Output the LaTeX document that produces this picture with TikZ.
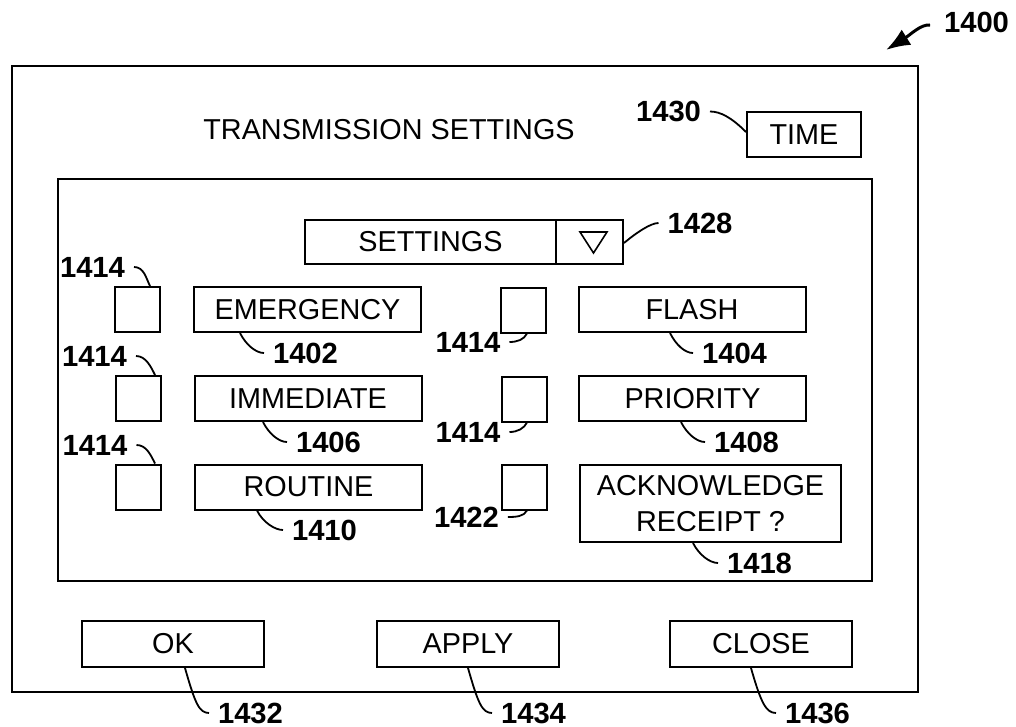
\documentclass[tikz,border=0pt]{standalone}
\usepackage{fontspec}
\setmainfont{Liberation Sans}
\usepackage{tikz}
\usetikzlibrary{arrows.meta}
\usetikzlibrary{calc}

\begin{document}
\begin{tikzpicture}
		[x=0.5pt, y=-0.5pt,
		line width=1pt,
		font=\fontsize{14.4}{18}\selectfont,
		> = {Latex[length=12pt,width=9pt]},
		check/.style = {draw, minimum size=22.5pt, inner sep=0pt},
		option/.style = {draw, minimum width=113.5pt, minimum height=22.5pt, inner sep=0pt},
		button/.style = {draw, minimum width=91pt, minimum height=23pt, inner sep=0pt},
		ref/.style = {font=\fontsize{14.6}{17}\selectfont\bfseries, inner sep=4pt},
		lead/.style = {line width=0.9pt}
		]
		\useasboundingbox (0,0) rectangle (1016,727);

		% window and panel
		\draw[line width=1.3pt] (12,66) rectangle (918,692);
		\draw (58,179) rectangle (872,581);

		\node (title) at (389,130) {TRANSMISSION SETTINGS};
		\node[draw, minimum width=57pt, minimum height=22.5pt, inner sep=0pt] (time) at (804,134.5) {TIME};

		% drop down list
		\node[draw, minimum width=125.5pt, minimum height=22pt, inner sep=0pt] (settings) at (430.5,242) {SETTINGS};
		\node[draw, minimum width=33.5pt, minimum height=22pt, inner sep=0pt] (drop) at (589.5,242) {};
		\draw[line width=0.8pt] ($(drop.center)+(-9.5,-10)$) -- ++(27,0) -- ++(-13.5,21) -- cycle;

		% priorities
		\node[check] (c1) at (137.5,309.5) {};
		\node[option] (emergency) at (307.5,309.5) {EMERGENCY};
		\node[check] (c2) at (523,310) {};
		\node[option] (flash) at (692,309.5) {FLASH};

		\node[check] (c3) at (138,398.5) {};
		\node[option] (immediate) at (308,398.5) {IMMEDIATE};
		\node[check] (c4) at (524,399) {};
		\node[option] (priority) at (692.5,398.5) {PRIORITY};

		\node[check] (c5) at (138.5,487) {};
		\node[option] (routine) at (308.5,487) {ROUTINE};
		\node[check] (c6) at (524,487) {};
		\node[draw, minimum width=130.5pt, minimum height=38.5pt, inner sep=0pt, align=center] (ack) at (710.5,503.5) {ACKNOWLEDGE\\RECEIPT ?};

		% buttons
		\node[button] (ok) at (173,644) {OK};
		\node[button] (apply) at (468,644) {APPLY};
		\node[button] (close) at (761,644) {CLOSE};

		% reference numerals
		\node[ref] (r1400) at (976.5,22) {1400};
		\coordinate (tip) at (886,50);
		\draw[->, line width=1.5pt] ($(r1400.west)+(-5,3)$) .. controls +(-9,-1) and +(24,-15) .. (tip);

		\node[ref] (r1430) at (668.5,111.5) {1430};
		\draw[lead] (r1430.east) .. controls +(10,0) and +(-15,-15) .. ($(time.west)+(0,-2.5)$);

		\node[ref] (r1428) at (700,223) {1428};
		\draw[lead] ($(drop.east)+(0,1)$) .. controls +(12,-10) and +(-8,0) .. (r1428.west);

		\node[ref] (r1414a) at (92.5,267) {1414};
		\draw[lead] (r1414a.east) .. controls +(10,0) and +(-4,-8) .. ($(c1.north)+(12.5,0)$);
		\node[ref] (r1414b) at (94.5,356) {1414};
		\draw[lead] (r1414b.east) .. controls +(10,0) and +(-4,-8) .. ($(c3.north)+(17,0)$);
		\node[ref] (r1414c) at (95,445) {1414};
		\draw[lead] (r1414c.east) .. controls +(10,0) and +(-4,-8) .. ($(c5.north)+(16.5,0)$);

		\node[ref] (r1414d) at (468,342) {1414};
		\draw[lead] (r1414d.east) .. controls +(8,0) and +(-3,6) .. ($(c2.south)+(4,0)$);
		\node[ref] (r1414e) at (468,432) {1414};
		\draw[lead] (r1414e.east) .. controls +(8,0) and +(-3,6) .. ($(c4.south)+(3,0)$);
		\node[ref] (r1422) at (466.5,517) {1422};
		\draw[lead] (r1422.east) .. controls +(8,0) and +(-3,6) .. ($(c6.south)+(3,0)$);

		\node[ref] (r1402) at (305.5,353) {1402};
		\draw[lead] ($(emergency.south)+(-67.5,0)$) .. controls +(6,12) and +(-8,0) .. (r1402.west);
		\node[ref] (r1406) at (328.5,442) {1406};
		\draw[lead] ($(immediate.south)+(-45,0)$) .. controls +(6,12) and +(-8,0) .. (r1406.west);
		\node[ref] (r1410) at (324.5,530) {1410};
		\draw[lead] ($(routine.south)+(-51.5,0)$) .. controls +(6,12) and +(-8,0) .. (r1410.west);
		\node[ref] (r1404) at (734.5,353) {1404};
		\draw[lead] ($(flash.south)+(-22,0)$) .. controls +(6,12) and +(-8,0) .. (r1404.west);
		\node[ref] (r1408) at (746.5,442) {1408};
		\draw[lead] ($(priority.south)+(-11.5,0)$) .. controls +(6,12) and +(-8,0) .. (r1408.west);
		\node[ref] (r1418) at (759.5,563) {1418};
		\draw[lead] ($(ack.south)+(-17.5,0)$) .. controls +(6,12) and +(-8,0) .. (r1418.west);

		\node[ref] (r1432) at (250.5,713) {1432};
		\draw[lead] ($(ok.south)+(12,0)$) .. controls +(10,35) and +(-10,0) .. (r1432.west);
		\node[ref] (r1434) at (533.5,713) {1434};
		\draw[lead] (apply.south) .. controls +(10,35) and +(-10,0) .. (r1434.west);
		\node[ref] (r1436) at (817.5,713) {1436};
		\draw[lead] ($(close.south)+(-10,0)$) .. controls +(10,35) and +(-10,0) .. (r1436.west);
\end{tikzpicture}
\end{document}
